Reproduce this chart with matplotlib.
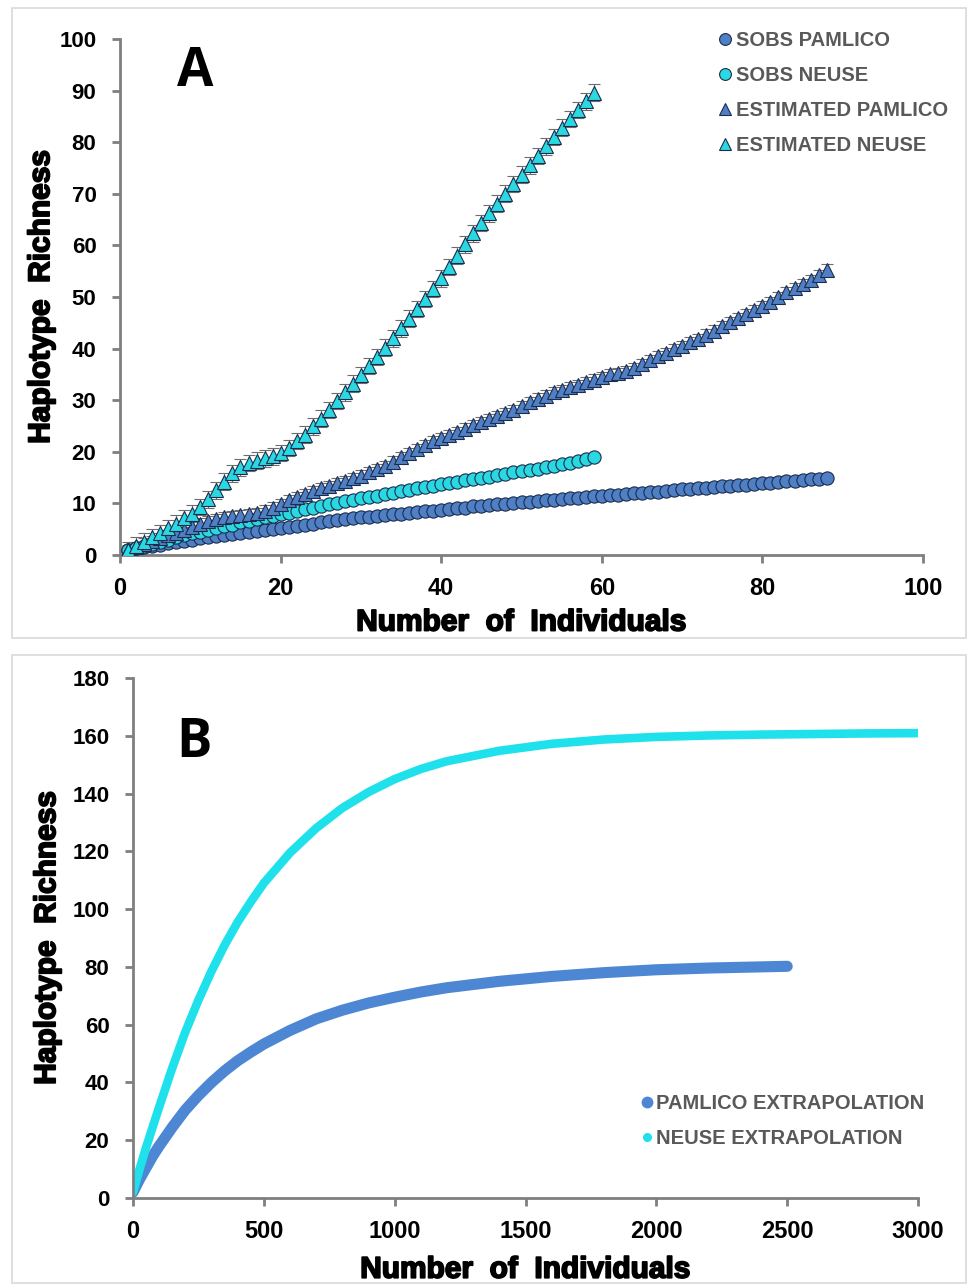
import numpy as np
import matplotlib.pyplot as plt
from matplotlib.lines import Line2D
from matplotlib.patches import Rectangle
import matplotlib.patheffects as pe

# panel A: rarefaction (observed) and estimated richness
n_pam = np.arange(1, 89)
n_neu = np.arange(1, 60)

sobs_pamlico = [1.0, 1.3, 1.6, 1.8, 2.0, 2.3, 2.5, 2.8, 3.0, 3.2,
                3.4, 3.6, 3.9, 4.1, 4.3, 4.5, 4.7, 4.9, 5.1, 5.3,
                5.5, 5.7, 5.9, 6.1, 6.3, 6.5, 6.7, 6.9, 7.1, 7.3,
                7.4, 7.6, 7.7, 7.9, 8.0, 8.2, 8.3, 8.5, 8.6, 8.8,
                8.9, 9.1, 9.2, 9.4, 9.5, 9.6, 9.8, 9.9, 10.1, 10.2,
                10.3, 10.5, 10.6, 10.7, 10.9, 11.0, 11.1, 11.2, 11.4, 11.5,
                11.6, 11.7, 11.8, 12.0, 12.1, 12.2, 12.3, 12.4, 12.6, 12.7,
                12.8, 12.9, 13.0, 13.1, 13.3, 13.4, 13.5, 13.6, 13.7, 13.9,
                14.0, 14.1, 14.3, 14.4, 14.5, 14.7, 14.8, 15.0]

sobs_neuse = [1.0, 1.4, 1.8, 2.2, 2.6, 3.0, 3.4, 3.8, 4.2, 4.5,
              4.9, 5.2, 5.6, 5.9, 6.3, 6.6, 6.9, 7.3, 7.6, 7.9,
              8.2, 8.5, 8.9, 9.2, 9.5, 9.8, 10.1, 10.4, 10.7, 11.0,
              11.3, 11.5, 11.8, 12.1, 12.4, 12.6, 12.9, 13.2, 13.4, 13.7,
              13.9, 14.2, 14.5, 14.7, 15.0, 15.2, 15.5, 15.7, 16.0, 16.2,
              16.5, 16.7, 17.0, 17.3, 17.6, 17.9, 18.2, 18.6, 19.0]

est_pamlico = [1.0, 1.6, 2.2, 2.7, 3.2, 3.8, 4.3, 4.9, 5.5, 6.1,
               6.6, 7.0, 7.3, 7.5, 7.7, 7.9, 8.2, 8.6, 9.2, 9.9,
               10.6, 11.2, 11.8, 12.4, 12.9, 13.4, 13.9, 14.4, 14.9, 15.4,
               16.0, 16.6, 17.3, 18.1, 19.0, 19.8, 20.6, 21.3, 22.0, 22.6,
               23.2, 23.8, 24.5, 25.1, 25.7, 26.3, 26.9, 27.5, 28.1, 28.8,
               29.6, 30.3, 30.9, 31.5, 32.0, 32.5, 33.0, 33.5, 34.0, 34.5,
               35.0, 35.3, 35.7, 36.2, 37.0, 37.8, 38.5, 39.2, 39.9, 40.5,
               41.2, 41.9, 42.7, 43.5, 44.3, 45.1, 45.9, 46.7, 47.5, 48.2,
               49.0, 50.0, 51.0, 51.8, 52.5, 53.3, 54.2, 55.3]

est_neuse = [1.0, 1.8, 2.6, 3.4, 4.3, 5.2, 6.1, 7.1, 8.0, 9.3,
             10.8, 12.5, 14.2, 15.8, 17.0, 17.8, 18.3, 18.7, 19.1, 19.8,
             20.7, 22.1, 23.3, 24.9, 26.4, 28.1, 29.8, 31.5, 33.2, 34.9,
             36.6, 38.4, 40.2, 42.0, 43.9, 45.8, 47.7, 49.6, 51.5, 53.6,
             55.8, 58.0, 60.2, 62.3, 64.3, 66.2, 68.1, 70.0, 71.9, 73.7,
             75.5, 77.3, 79.2, 81.0, 82.8, 84.5, 86.2, 87.9, 89.6]

err_pamlico = 1.0
err_neuse = 1.6

# panel B: extrapolation
x_pam_ext = [0, 25, 50, 75, 100, 150, 200, 250, 300, 350, 400, 450, 500, 600, 700,
             800, 900, 1000, 1100, 1200, 1400, 1600, 1800, 2000, 2200, 2400, 2500]
y_pam_ext = [2, 6.5, 10.5, 14.5, 18, 24.5, 30.5, 35.5, 40, 44, 47.5, 50.5, 53.3, 58, 62,
             65, 67.5, 69.5, 71.3, 72.8, 75, 76.7, 78, 79, 79.6, 80, 80.2]
x_neu_ext = [0, 25, 50, 75, 100, 150, 200, 250, 300, 350, 400, 450, 500, 600, 700,
             800, 900, 1000, 1100, 1200, 1400, 1600, 1800, 2000, 2200, 2400, 2600, 2800, 3000]
y_neu_ext = [2, 10, 17.5, 24.5, 31.5, 45, 57.5, 68.5, 78.5, 87.5, 95.5, 102.5, 109, 119.5, 128,
             135, 140.5, 145, 148.5, 151.2, 154.8, 157.2, 158.7, 159.6, 160.1, 160.4, 160.6,
             160.8, 160.9]

C_PAM = '#4f7fc4'
C_NEU = '#2ad8e2'
C_PAM_B = '#4d87d4'
C_NEU_B = '#1fe1ec'
EDGE = '#1c2c4c'
AXC = '#7f7f7f'

plt.rcParams['font.family'] = ['Liberation Sans', 'DejaVu Sans']

fig = plt.figure(figsize=(9.68, 12.85), dpi=100)

# light panel frames
fig.patches.append(Rectangle((0.0124, 0.5035), 0.9856, 0.4903, transform=fig.transFigure,
                             fill=False, ec='#d9d9d9', lw=1.2))
fig.patches.append(Rectangle((0.0124, 0.0016), 0.9856, 0.4887, transform=fig.transFigure,
                             fill=False, ec='#d9d9d9', lw=1.2))

heavy = [pe.withStroke(linewidth=1.3, foreground='black')]


def style_axes(ax, ypad, xpad):
    for s in ['top', 'right']:
        ax.spines[s].set_visible(False)
    for s in ['left', 'bottom']:
        ax.spines[s].set_color(AXC)
        ax.spines[s].set_linewidth(2)
    ax.tick_params(direction='out', length=6, width=2, color=AXC, labelsize=16)
    for lab in ax.get_yticklabels() + ax.get_xticklabels():
        lab.set_fontweight('bold')
    ax.tick_params(axis='y', pad=11)
    ax.tick_params(axis='x', pad=10)
    for lab in ax.get_xticklabels():
        lab.set_fontsize(17)
    ax.set_xlabel('Number  of  Individuals', fontsize=21.5, fontweight='bold', labelpad=xpad,
                  path_effects=heavy)
    ax.set_ylabel('Haplotype  Richness', fontsize=21.5, fontweight='bold', labelpad=ypad,
                  path_effects=heavy)


# ---- A ----
axA = fig.add_axes([0.124, 0.5681, 0.8295, 0.4016])
axA.errorbar(n_pam, est_pamlico, yerr=err_pamlico, fmt='none', ecolor='#6d6d6d',
             elinewidth=0.8, capsize=4, capthick=0.8, zorder=1)
axA.errorbar(n_neu, est_neuse, yerr=err_neuse, fmt='none', ecolor='#6d6d6d',
             elinewidth=0.8, capsize=4, capthick=0.8, zorder=1)
axA.plot(n_pam, sobs_pamlico, 'o', ms=9.5, mfc=C_PAM, mec=EDGE, mew=0.8, zorder=3)
axA.plot(n_neu, sobs_neuse, 'o', ms=9.5, mfc=C_NEU, mec=EDGE, mew=0.8, zorder=3)
axA.plot(n_pam, est_pamlico, '^', ms=10.5, mfc=C_PAM, mec=EDGE, mew=0.8, zorder=4)
axA.plot(n_neu, est_neuse, '^', ms=10.5, mfc=C_NEU, mec=EDGE, mew=0.8, zorder=5)
axA.set_xlim(0, 100)
axA.set_ylim(0, 100)
axA.set_xticks(range(0, 101, 20))
axA.set_yticks(range(0, 101, 10))
style_axes(axA, 3, 6)
axA.text(0.093, 0.935, 'A', transform=axA.transAxes, fontsize=38, fontweight='bold',
         family=['Open Sans', 'DejaVu Sans'], va='center', ha='center')

handlesA = [Line2D([], [], ls='none', marker='o', ms=8.5, mfc=C_PAM, mec=EDGE, mew=0.8),
            Line2D([], [], ls='none', marker='o', ms=8.5, mfc=C_NEU, mec=EDGE, mew=0.8),
            Line2D([], [], ls='none', marker='^', ms=8.5, mfc=C_PAM, mec=EDGE, mew=0.8),
            Line2D([], [], ls='none', marker='^', ms=8.5, mfc=C_NEU, mec=EDGE, mew=0.8)]
labelsA = ['SOBS PAMLICO', 'SOBS NEUSE', 'ESTIMATED PAMLICO', 'ESTIMATED NEUSE']
legA = fig.legend(handlesA, labelsA, loc='upper left', bbox_to_anchor=(0.731, 0.984),
                  frameon=False, handlelength=0.7, handletextpad=0.2, labelspacing=0.8,
                  borderpad=0, prop={'weight': 'bold', 'size': 14.5})
for t in legA.get_texts():
    t.set_color('#595959')

# ---- B ----
axB = fig.add_axes([0.1374, 0.0677, 0.811, 0.4047])
axB.plot(x_pam_ext, y_pam_ext, '-', color=C_PAM_B, lw=8, solid_capstyle='round',
         solid_joinstyle='round')
axB.plot(x_neu_ext, y_neu_ext, '-', color=C_NEU_B, lw=6.2, solid_capstyle='round',
         solid_joinstyle='round')
axB.set_xlim(0, 3000)
axB.set_ylim(0, 180)
axB.set_xticks(range(0, 3001, 500))
axB.set_yticks(range(0, 181, 20))
style_axes(axB, 8, 9)
axB.text(0.077, 0.875, 'B', transform=axB.transAxes, fontsize=38, fontweight='bold',
         family=['Open Sans', 'DejaVu Sans'], va='center', ha='center')

handlesB = [Line2D([], [], ls='none', marker='o', ms=7.5, mfc=C_PAM_B, mec=C_PAM_B),
            Line2D([], [], ls='none', marker='o', ms=5.5, mfc=C_NEU_B, mec=C_NEU_B)]
labelsB = ['PAMLICO EXTRAPOLATION', 'NEUSE EXTRAPOLATION']
legB = fig.legend(handlesB, labelsB, loc='upper left', bbox_to_anchor=(0.652, 0.1565),
                  frameon=False, handlelength=0.55, handletextpad=0.2, labelspacing=0.8,
                  borderpad=0, prop={'weight': 'bold', 'size': 14.5})
for t in legB.get_texts():
    t.set_color('#595959')

fig.savefig('out.png', dpi=100)
